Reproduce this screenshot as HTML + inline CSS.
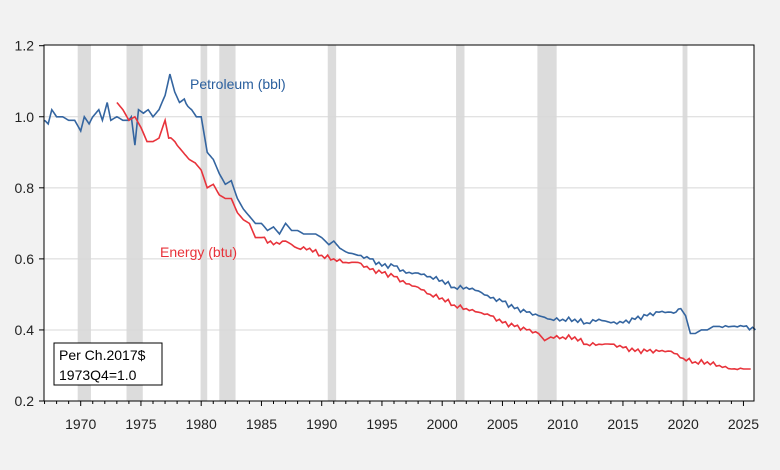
<!DOCTYPE html>
<html><head><meta charset="utf-8"><style>
body{margin:0;background:#f2f2f2;}
svg{display:block;font-family:"Liberation Sans",Arial,sans-serif;}
</style></head><body>
<svg id="s" width="780" height="470" xmlns="http://www.w3.org/2000/svg">
<rect width="780" height="470" fill="#f2f2f2"/>
<rect x="44" y="45" width="710" height="356" fill="#fff"/>
<g id="rec" fill="#dcdcdc"></g>
<g id="grid" stroke="#d8d8d8" stroke-width="1"></g>
<polyline id="pet" fill="none" stroke="#3465a0" stroke-width="1.6"/>
<polyline id="en" fill="none" stroke="#e8333b" stroke-width="1.6"/>
<rect x="44" y="45" width="710" height="356" fill="none" stroke="#000" stroke-width="1"/>
<g id="ax" stroke="#000" stroke-width="1"></g>
<g id="yl" font-size="14" fill="#222" text-anchor="end"></g>
<g id="xl" font-size="14" fill="#222" text-anchor="middle"></g>
<text x="190" y="89" font-size="14" fill="#2a5f9e">Petroleum (bbl)</text>
<text x="160" y="257" font-size="14" fill="#e8323a">Energy (btu)</text>
<rect x="54" y="343" width="108" height="42" fill="#fff" stroke="#000"/>
<text x="59" y="360" font-size="14" fill="#000">Per Ch.2017$</text>
<text x="59" y="380" font-size="14" fill="#000">1973Q4=1.0</text>
</svg>
<script>
var X=function(t){return 80.7+(t-1970)*12.05;},Y=function(v){return 401-(v-0.2)*355.3;};
var ns="http://www.w3.org/2000/svg";
function el(p,n,a,t){var e=document.createElementNS(ns,n);for(var k in a)e.setAttribute(k,a[k]);if(t)e.textContent=t;document.getElementById(p).appendChild(e);}
[[1969.75,1970.85],[1973.8,1975.15],[1979.95,1980.5],[1981.5,1982.85],[1990.5,1991.2],[2001.15,2001.85],[2007.9,2009.5],[2019.95,2020.35]].forEach(function(r){el("rec","rect",{x:X(r[0]),y:45,width:X(r[1])-X(r[0]),height:356});});
for(var yr=1967;yr<=2026;yr++){var x=X(yr);if(x<44||x>754)continue;el("ax","line",{x1:x,x2:x,y1:401,y2:yr%5==0?406:404});if(yr%5==0)el("xl","text",{x:x,y:429},String(yr));}
[1.2,1.0,0.8,0.6,0.4,0.2].forEach(function(v){var y=Y(v);el("ax","line",{x1:39,x2:44,y1:y,y2:y});el("yl","text",{x:34,y:y+5},v.toFixed(1));if(v>0.3&&v<1.1)el("grid","line",{x1:44,x2:754,y1:y,y2:y});});
var P=[[1967,.99],[1967.3,.98],[1967.6,1.02],[1968,1.0],[1968.5,1.0],[1969,.99],[1969.5,.99],[1970,.96],[1970.3,1.0],[1970.7,.98],[1971,1.0],[1971.5,1.02],[1971.8,.99],[1972.2,1.04],[1972.5,.99],[1973,1.0],[1973.5,.99],[1974,.99],[1974.2,1.0],[1974.5,.92],[1974.8,1.02],[1975.2,1.01],[1975.6,1.02],[1976,1.0],[1976.5,1.02],[1977,1.06],[1977.4,1.12],[1977.8,1.07],[1978.2,1.04],[1978.6,1.05],[1979.2,1.02],[1979.6,1.0],[1980,1.0],[1980.5,.9],[1981,.88],[1981.5,.84],[1982,.81],[1982.5,.82],[1983,.77],[1983.5,.74],[1984,.72],[1984.5,.7],[1985,.7],[1985.5,.68],[1986,.69],[1986.5,.67],[1987,.7],[1987.5,.68],[1988,.68],[1988.5,.67],[1989,.67],[1989.5,.67],[1990,.66],[1990.6,.64],[1991,.65],[1991.5,.63],[1992,.62],[1993,.61],[1994,.6],[1995,.58],[1996,.58],[1997,.56],[1998,.56],[1999,.55],[2000,.54],[2001,.52],[2002,.52],[2003,.51],[2004,.49],[2005,.48],[2006,.46],[2007,.45],[2008,.44],[2009,.43],[2010,.43],[2011,.43],[2012,.42],[2013,.43],[2014,.42],[2015,.42],[2016,.43],[2017,.44],[2018,.45],[2019,.45],[2019.8,.46],[2020.2,.44],[2020.6,.39],[2021,.39],[2021.5,.4],[2022,.4],[2022.5,.41],[2023,.41],[2024,.41],[2025,.41],[2026,.4]];
var E=[[1973,1.04],[1973.5,1.02],[1974,.99],[1974.5,1.0],[1975,.97],[1975.5,.93],[1976,.93],[1976.5,.94],[1977,.99],[1977.3,.94],[1978,.92],[1978.5,.9],[1979,.88],[1979.5,.87],[1980,.85],[1980.5,.8],[1981,.81],[1981.5,.78],[1982,.77],[1982.5,.77],[1983,.73],[1983.5,.71],[1984,.7],[1984.5,.66],[1985,.66],[1986,.64],[1987,.65],[1988,.63],[1989,.63],[1990,.61],[1991,.6],[1992,.59],[1993,.59],[1994,.57],[1995,.56],[1996,.55],[1997,.53],[1998,.52],[1999,.5],[2000,.49],[2001,.47],[2002,.46],[2003,.45],[2004,.44],[2005,.42],[2006,.41],[2007,.4],[2008,.39],[2008.5,.37],[2009,.38],[2010,.38],[2011,.38],[2012,.36],[2013,.36],[2014,.36],[2015,.35],[2016,.34],[2017,.34],[2018,.34],[2019,.34],[2020,.32],[2021,.31],[2022,.31],[2023,.3],[2024,.29],[2025,.29],[2025.6,.29]];
function pts(a){var o=[];for(var i=0;i<a.length-1;i++){for(var k=0;k<4;k++){var f=k/4,t=a[i][0]+(a[i+1][0]-a[i][0])*f,v=a[i][1]+(a[i+1][1]-a[i][1])*f;if(k>0&&a[i+1][0]-a[i][0]>0.6)v+=Math.sin(t*37.1)*0.006;o.push(X(t).toFixed(1)+","+Y(v).toFixed(1));}}var l=a[a.length-1];o.push(X(l[0]).toFixed(1)+","+Y(l[1]).toFixed(1));return o.join(" ");}
document.getElementById("pet").setAttribute("points",pts(P));
document.getElementById("en").setAttribute("points",pts(E));
</script>
</body></html>
